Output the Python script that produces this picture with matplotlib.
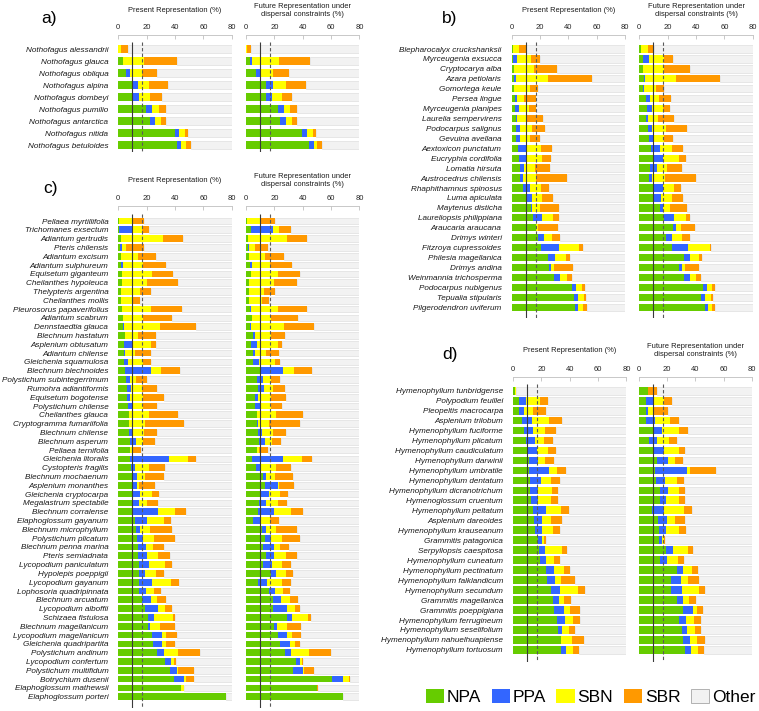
import numpy as np
import matplotlib
matplotlib.use("Agg")
import matplotlib.pyplot as plt
from matplotlib.patches import Patch

plt.rcParams['font.family'] = ['Liberation Sans', 'DejaVu Sans']

# ---------------- DATA ----------------
categories = ["NPA", "PPA", "SBN", "SBR", "Other"]
x_ticks = [0, 20, 40, 60, 80]
x_max = 80
threshold_solid = 10
threshold_dashed = 17

species_a = ["Nothofagus alessandrii", "Nothofagus glauca", "Nothofagus obliqua", "Nothofagus alpina",
             "Nothofagus dombeyi", "Nothofagus pumilio", "Nothofagus antarctica", "Nothofagus nitida",
             "Nothofagus betuloides"]
a_pres_npa = [0, 3.3, 5.7, 10.0, 10.7, 19.5, 22.6, 39.8, 41.2]
a_pres_ppa = [0, 0, 2.6, 3.8, 3.6, 4.5, 3.6, 3.1, 3.1]
a_pres_sbn = [1.7, 15.0, 8.4, 8.1, 8.3, 4.8, 3.6, 4.2, 3.3]
a_pres_sbr = [5.2, 22.9, 10.9, 12.9, 7.9, 5.2, 4.2, 2.4, 3.6]
a_fut_npa = [0, 2.9, 7.1, 14.0, 13.8, 22.6, 24.0, 39.8, 44.5]
a_fut_ppa = [0, 1.1, 3.1, 5.0, 4.5, 4.5, 4.3, 3.5, 3.4]
a_fut_sbn = [0.4, 19.3, 8.8, 9.1, 7.2, 3.6, 3.8, 4.3, 1.9]
a_fut_sbr = [2.9, 21.7, 11.0, 14.3, 6.9, 5.0, 3.9, 1.9, 3.5]

species_b = ["Blepharocalyx cruckshanksii", "Myrceugenia exsucca", "Cryptocarya alba", "Azara petiolaris",
             "Gomortega keule", "Persea lingue", "Myrceugenia planipes", "Laurelia sempervirens",
             "Podocarpus salignus", "Gevuina avellana", "Aextoxicon punctatum", "Eucryphia cordifolia",
             "Lomatia hirsuta", "Austrocedrus chilensis", "Rhaphithamnus spinosus", "Luma apiculata",
             "Maytenus disticha", "Laureliopsis philippiana", "Araucaria araucana", "Drimys winteri",
             "Fitzroya cupressoides", "Philesia magellanica", "Drimys andina", "Weinmannia trichosperma",
             "Podocarpus nubigenus", "Tepualia stipularis", "Pilgerodendron uviferum"]
b_pres_npa = [0.7, 1.2, 1.4, 1.9, 1.9, 2.1, 2.1, 2.9, 3.3, 3.3, 4.5, 5.2, 6.0, 6.0, 7.9, 10.0, 13.8, 15.0,
              16.9, 18.3, 20.5, 25.5, 26.0, 30.0, 42.4, 43.6, 44.8]
b_pres_ppa = [0, 2.6, 0, 1.0, 0, 1.7, 3.4, 1.1, 2.9, 2.7, 6.2, 5.3, 3.0, 1.9, 5.2, 4.3, 0.7, 6.2,
              0, 4.3, 13.1, 5.0, 1.9, 3.8, 3.1, 3.1, 2.1]
b_pres_sbn = [4.8, 10.0, 14.1, 22.6, 11.0, 5.0, 6.9, 6.7, 8.1, 7.1, 9.8, 10.9, 7.2, 9.0, 7.9, 7.4, 5.7, 8.1,
              1.7, 6.0, 13.8, 8.1, 1.9, 5.2, 3.8, 4.2, 3.3]
b_pres_sbr = [4.5, 6.2, 16.6, 31.1, 5.4, 8.1, 4.5, 11.4, 9.5, 7.1, 7.6, 6.2, 10.7, 22.1, 5.4, 7.3, 13.4, 3.8,
              13.8, 5.7, 2.8, 2.6, 13.5, 3.6, 2.6, 1.2, 2.7]
b_fut_npa = [1.0, 2.9, 2.9, 3.3, 2.9, 4.5, 5.5, 4.5, 6.2, 6.7, 8.6, 9.5, 7.9, 6.7, 10.0, 10.7, 14.8, 17.1,
             23.8, 19.0, 23.1, 31.7, 28.3, 31.7, 45.0, 43.8, 46.2]
b_fut_ppa = [0, 3.8, 0, 0.7, 0.4, 3.4, 3.5, 1.7, 3.1, 3.5, 5.7, 7.2, 4.5, 2.3, 6.7, 4.8, 2.1, 7.4,
             2.4, 4.3, 11.2, 4.3, 1.7, 4.0, 2.9, 2.9, 2.1]
b_fut_sbn = [5.0, 10.4, 14.2, 22.2, 8.6, 5.9, 7.9, 6.7, 9.5, 7.4, 8.8, 11.2, 7.1, 9.3, 7.6, 7.4, 5.0, 8.1,
             3.3, 6.5, 15.7, 6.1, 2.1, 4.5, 3.5, 4.0, 2.9]
b_fut_sbr = [4.5, 6.9, 18.9, 30.5, 5.7, 8.6, 5.0, 11.9, 14.5, 6.0, 7.4, 5.2, 10.3, 21.9, 5.2, 7.6, 11.4, 3.1,
             9.8, 5.7, 0.7, 2.4, 10.0, 3.1, 1.7, 1.4, 1.9]

species_c = ["Pellaea myrtillifolia", "Trichomanes exsectum", "Adiantum gertrudis", "Pteris chilensis",
             "Adiantum excisum", "Adiantum sulphureum", "Equisetum giganteum", "Cheilanthes hypoleuca",
             "Thelypteris argentina", "Cheilanthes mollis", "Pleurosorus papaverifolius", "Adiantum scabrum",
             "Dennstaedtia glauca", "Blechnum hastatum", "Asplenium obtusatum", "Adiantum chilense",
             "Gleichenia squamulosa", "Blechnum blechnoides", "Polystichum subintegerrimum",
             "Rumohra adiantiformis", "Equisetum bogotense", "Polystichum chilense", "Cheilanthes glauca",
             "Cryptogramma fumariifolia", "Blechnum chilense", "Blechnum asperum", "Pellaea ternifolia",
             "Gleichenia litoralis", "Cystopteris fragilis", "Blechnum mochaenum", "Asplenium monanthes",
             "Gleichenia cryptocarpa", "Megalastrum spectabile", "Blechnum corralense",
             "Elaphoglossum gayanum", "Blechnum microphyllum", "Polystichum plicatum",
             "Blechnum penna marina", "Pteris semiadnata", "Lycopodium paniculatum", "Hypolepis poeppigii",
             "Lycopodium gayanum", "Lophosoria quadripinnata", "Blechnum arcuatum", "Lycopodium alboffii",
             "Schizaea fistulosa", "Blechnum magellanicum", "Lycopodium magellanicum",
             "Gleichenia quadripartita", "Polystichum andinum", "Lycopodium confertum",
             "Polystichum multifidum", "Botrychium dusenii", "Elaphoglossum mathewsii",
             "Elaphoglossum porteri"]
c_pres_npa = [0.7, 0.5, 1.7, 1.0, 1.7, 2.1, 2.4, 2.9, 1.9, 2.1, 2.9, 3.3, 3.6, 4.5, 3.8, 4.3, 4.0, 5.0, 5.5,
              6.2, 6.2, 6.9, 7.4, 7.4, 7.6, 8.6, 8.6, 8.6, 9.0, 9.5, 9.5, 9.8, 10.2, 10.2, 11.7, 12.6, 13.1,
              13.6, 13.8, 14.3, 14.5, 14.8, 14.8, 16.9, 18.8, 20.7, 21.0, 24.0, 24.8, 27.1, 32.9, 36.4,
              39.5, 44.0, 75.7]
c_pres_ppa = [0, 9.7, 0, 1.6, 0, 1.0, 0, 0, 0, 0, 0, 0, 0.7, 0, 6.4, 0.5, 3.1, 18.3, 2.8, 3.1, 1.9, 3.3,
              0, 0.5, 2.9, 4.0, 0, 27.4, 2.7, 3.4, 3.6, 5.2, 4.1, 18.1, 8.8, 2.6, 4.3, 5.9, 6.7, 7.6, 4.1,
              9.0, 4.7, 6.0, 9.5, 4.5, 1.6, 7.0, 5.7, 5.0, 4.2, 4.8, 6.5, 0, 0]
c_pres_sbn = [8.8, 6.7, 30.0, 2.6, 12.3, 14.3, 21.6, 17.3, 13.1, 7.9, 20.2, 14.1, 25.2, 9.1, 12.9, 7.1,
              10.0, 6.7, 4.3, 7.6, 9.3, 7.2, 14.0, 10.9, 7.4, 4.8, 1.2, 13.5, 10.0, 5.9, 1.7, 9.0, 6.2,
              11.7, 11.6, 7.4, 8.1, 4.8, 7.4, 11.2, 7.8, 13.6, 5.7, 4.5, 4.8, 13.1, 6.7, 2.8, 3.5, 9.8,
              2.2, 1.2, 2.1, 2.2, 0]
c_pres_sbr = [8.4, 5.0, 14.0, 12.9, 12.9, 16.2, 14.6, 22.2, 8.3, 5.5, 22.1, 20.7, 25.0, 13.3, 3.8, 11.2,
              5.8, 13.8, 7.9, 10.2, 14.5, 10.0, 20.5, 27.2, 9.7, 8.8, 5.9, 5.5, 10.9, 13.6, 11.2, 5.0,
              7.4, 7.6, 4.8, 15.0, 14.3, 7.6, 8.3, 5.0, 5.5, 5.5, 4.8, 6.6, 5.0, 1.7, 10.5, 7.6, 5.8,
              15.7, 1.7, 10.9, 5.5, 0.5, 0]
c_fut_npa = [0.5, 3.8, 1.7, 1.4, 1.9, 2.9, 3.6, 2.1, 2.1, 2.1, 3.1, 4.5, 3.1, 5.2, 3.6, 5.0, 4.8, 10.7, 8.1,
             8.6, 6.2, 6.7, 7.6, 7.6, 8.6, 9.5, 7.6, 4.0, 7.1, 12.1, 13.6, 10.2, 9.3, 8.8, 5.0, 11.2, 13.6,
             11.9, 14.0, 12.1, 17.4, 8.6, 16.2, 19.0, 19.3, 28.6, 19.8, 22.6, 24.3, 27.4, 35.0, 33.1,
             61.0, 49.8, 68.6]
c_fut_ppa = [0, 15.5, 0, 1.0, 0, 1.4, 0, 0, 0, 0, 0.5, 0, 0.5, 1.2, 4.5, 1.0, 4.7, 15.7, 4.0, 4.3, 2.4,
             3.3, 0.5, 0.7, 2.8, 4.1, 0, 22.2, 3.6, 1.7, 9.3, 6.0, 5.0, 11.2, 5.7, 3.1, 3.8, 7.6, 5.8, 6.5,
             3.6, 6.4, 4.0, 6.0, 9.7, 4.0, 2.1, 6.2, 6.4, 4.3, 3.1, 7.4, 7.3, 0, 0]
c_fut_sbn = [9.7, 4.3, 27.1, 3.8, 11.7, 12.8, 18.8, 17.9, 10.8, 8.9, 19.0, 13.1, 23.3, 11.2, 14.3, 7.8,
             10.7, 7.6, 5.8, 6.4, 9.0, 7.6, 13.1, 7.7, 7.6, 4.5, 1.9, 13.1, 10.3, 6.9, 0.4, 7.8, 8.1, 11.7,
             6.4, 7.1, 8.1, 4.8, 8.3, 6.9, 6.9, 10.7, 6.0, 5.7, 5.5, 11.2, 6.7, 3.8, 3.8, 12.6, 1.7, 0.5,
             4.1, 0, 0]
c_fut_sbr = [10.0, 7.8, 14.5, 9.3, 13.3, 15.5, 15.5, 16.2, 7.6, 5.0, 20.7, 19.3, 21.4, 10.0, 3.1, 9.5,
             3.8, 12.9, 5.9, 8.3, 10.7, 7.9, 18.8, 22.3, 8.9, 6.7, 6.0, 7.6, 10.7, 12.4, 10.3, 5.3, 6.4,
             8.8, 6.2, 14.8, 12.6, 5.7, 8.1, 6.2, 5.4, 5.7, 4.5, 6.2, 3.4, 1.9, 10.2, 6.4, 3.8, 15.9, 0.4,
             7.1, 0.9, 0.7, 0]

species_d = ["Hymenophyllum tunbridgense", "Polypodium feuillei", "Pleopeltis macrocarpa", "Asplenium trilobum",
             "Hymenophyllum fuciforme", "Hymenophyllum plicatum", "Hymenophyllum caudiculatum",
             "Hymenophyllum darwinii", "Hymenophyllum umbratile", "Hymenophyllum dentatum",
             "Hymenophyllum dicranotrichum", "Hymenoglossum cruentum", "Hymenophyllum peltatum",
             "Asplenium dareoides", "Hymenophyllum krauseanum", "Grammitis patagonica",
             "Serpyllopsis caespitosa", "Hymenophyllum cuneatum", "Hymenophyllum pectinatum",
             "Hymenophyllum falklandicum", "Hymenophyllum secundum", "Grammitis magellanica",
             "Grammitis poeppigiana", "Hymenophyllum ferrugineum", "Hymenophyllum seselifolium",
             "Hymenophyllum nahuelhuapiense", "Hymenophyllum tortuosum"]
d_pres_npa = [1.7, 4.3, 4.5, 6.2, 7.9, 9.5, 10.5, 11.0, 11.2, 12.1, 12.1, 12.9, 14.3, 15.0, 15.7, 17.4,
              18.6, 19.3, 23.3, 24.0, 27.1, 28.1, 28.6, 31.0, 31.4, 33.6, 33.8]
d_pres_ppa = [0, 5.0, 3.1, 7.4, 6.4, 6.0, 6.6, 6.4, 14.0, 7.4, 5.8, 4.5, 9.3, 5.7, 5.0, 3.3, 4.0, 4.3,
              5.7, 5.3, 5.8, 4.0, 7.1, 5.4, 3.4, 0, 3.6]
d_pres_sbn = [0.7, 9.5, 6.4, 11.9, 8.1, 6.6, 7.4, 5.5, 5.5, 7.2, 9.5, 9.7, 10.0, 6.4, 7.2, 1.2, 11.7, 5.0,
              7.2, 4.7, 12.8, 4.1, 4.5, 6.0, 4.5, 8.1, 5.2]
d_pres_sbr = [0, 6.2, 9.3, 8.8, 8.1, 6.2, 5.5, 5.7, 6.7, 6.2, 4.3, 4.8, 5.9, 7.7, 5.2, 1.4, 3.6, 4.7, 3.8,
              9.8, 5.0, 4.5, 7.2, 4.7, 4.3, 8.3, 3.8]
d_fut_npa = [6.7, 5.5, 5.0, 5.5, 10.5, 7.6, 9.8, 12.9, 11.7, 12.1, 14.8, 14.8, 9.3, 13.8, 14.5, 14.0, 19.3,
             15.0, 26.7, 23.1, 22.6, 26.7, 31.4, 28.6, 30.5, 31.4, 32.9]
d_fut_ppa = [0, 4.7, 1.4, 6.2, 5.9, 5.3, 8.1, 7.6, 22.3, 6.5, 5.7, 4.5, 8.6, 6.2, 5.0, 2.4, 5.0, 4.8, 4.5,
             6.4, 8.1, 4.3, 6.7, 5.0, 3.8, 4.6, 3.8]
d_fut_sbn = [0, 7.9, 4.1, 10.4, 11.7, 8.8, 10.2, 5.0, 2.0, 8.1, 8.1, 8.8, 14.2, 5.7, 8.8, 1.2, 10.2, 8.1,
             6.7, 5.0, 11.9, 4.7, 2.9, 5.4, 5.2, 5.0, 5.2]
d_fut_sbr = [6.2, 5.7, 10.2, 6.0, 6.9, 5.4, 4.8, 5.7, 18.3, 5.4, 4.0, 4.3, 5.5, 6.7, 5.0, 1.2, 3.8, 4.0,
             4.0, 8.1, 4.5, 4.5, 4.7, 4.8, 4.5, 5.7, 4.3]

# ---------------- STYLE ----------------
COLORS = ["#66cc00", "#3366ff", "#ffff00", "#ff9900"]
OTHER_FC = "#f2f2f2"
OTHER_EC = "#d9d9d9"
W, H = 759, 711
fig = plt.figure(figsize=(W / 100, H / 100), dpi=100)


def add_ax(l, t, r, b):
    return fig.add_axes([l / W, 1 - b / H, (r - l) / W, (b - t) / H])


def draw(ax, species, series, r0, d, top, bot, hfrac, labels):
    n = len(species)
    y = np.arange(n)
    left = np.zeros(n)
    for vals, col in zip(series, COLORS):
        v = np.array(vals, dtype=float)
        ax.barh(y, v, left=left, height=hfrac, color=col, linewidth=0, zorder=2)
        left = left + v
    ax.barh(y, x_max - left, left=left, height=hfrac, color=OTHER_FC, edgecolor=OTHER_EC,
            linewidth=0.4, zorder=1)
    ybot = (bot - r0) / d
    ytop = (top - r0) / d
    ax.set_xlim(0, x_max)
    ax.set_ylim(ybot, ytop)
    vtop = -7.0 / d
    ax.vlines([threshold_solid], vtop, ybot, color="#3a3a3a", linewidth=0.8, zorder=4)
    ax.vlines([threshold_dashed], vtop, ybot, color="#5a5a5a", linewidth=0.8,
              linestyles=(0, (3, 2)), zorder=4)
    ax.xaxis.tick_top()
    ax.set_xticks(x_ticks)
    ax.tick_params(axis='x', direction='in', length=3, width=0.6, color="#bfbfbf",
                   labelsize=5.5, labelcolor="#262626", pad=3)
    if labels:
        ax.set_yticks(y)
        ax.set_yticklabels(species, fontstyle='italic', fontsize=5.85, color="#1a1a1a")
        ax.tick_params(axis='y', length=0, pad=7.2)
    else:
        ax.set_yticks([])
    for s in ["left", "right", "bottom"]:
        ax.spines[s].set_visible(False)
    ax.spines["top"].set_color("#bfbfbf")
    ax.spines["top"].set_linewidth(0.6)
    ax.set_facecolor("none")


def titles(xp, xf, ty):
    fig.text(xp / W, 1 - ty / H, "Present Representation (%)", ha='center', va='center',
             fontsize=5.4, color="#1a1a1a")
    fig.text(xf / W, 1 - ty / H, "Future Representation under\ndispersal constraints (%)",
             ha='center', va='center', fontsize=5.4, linespacing=1.2, color="#1a1a1a")


panels = [
    # letter, species, present, future, present x, future x, top, bottom, r0, d, hfrac, letter pos, title y
    ("a)", species_a, [a_pres_npa, a_pres_ppa, a_pres_sbn, a_pres_sbr],
     [a_fut_npa, a_fut_ppa, a_fut_sbn, a_fut_sbr], 118.3, 246.0, 35, 152, 49.3, 12.0, 0.70, (49, 18), 10.7),
    ("b)", species_b, [b_pres_npa, b_pres_ppa, b_pres_sbn, b_pres_sbr],
     [b_fut_npa, b_fut_ppa, b_fut_sbn, b_fut_sbr], 511.7, 639.3, 35, 318, 49.0, 9.93, 0.74, (450, 18), 10.7),
    ("c)", species_c, [c_pres_npa, c_pres_ppa, c_pres_sbn, c_pres_sbr],
     [c_fut_npa, c_fut_ppa, c_fut_sbn, c_fut_sbr], 118.3, 246.0, 206, 708, 221.0, 8.81, 0.76, (50, 189), 181.0),
    ("d)", species_d, [d_pres_npa, d_pres_ppa, d_pres_sbn, d_pres_sbr],
     [d_fut_npa, d_fut_ppa, d_fut_sbn, d_fut_sbr], 513.0, 638.7, 377, 662, 390.7, 9.97, 0.78, (450, 355), 351.0),
]

AXW = 113.4
for letter, sp, pres, fut, xp, xf, top, bot, r0, d, hf, lpos, ty in panels:
    axp = add_ax(xp, top, xp + AXW, bot)
    draw(axp, sp, pres, r0, d, top, bot, hf, True)
    axf = add_ax(xf, top, xf + AXW, bot)
    draw(axf, sp, fut, r0, d, top, bot, hf, False)
    titles(xp + AXW / 2, xf + AXW / 2, ty)
    fig.text(lpos[0] / W, 1 - lpos[1] / H, letter, ha='center', va='center', fontsize=12.5, color="#000000")

handles = [Patch(facecolor=c, edgecolor='none') for c in COLORS]
handles.append(Patch(facecolor=OTHER_FC, edgecolor="#a6a6a6", linewidth=0.6))
fig.legend(handles, categories, loc='center', bbox_to_anchor=(590.5 / W, 1 - 697 / H), ncol=5,
           frameon=False, fontsize=12.5, handlelength=1.05, handleheight=0.85, handletextpad=0.17,
           columnspacing=0.6, borderpad=0, borderaxespad=0)

fig.savefig("out.png", dpi=100)
